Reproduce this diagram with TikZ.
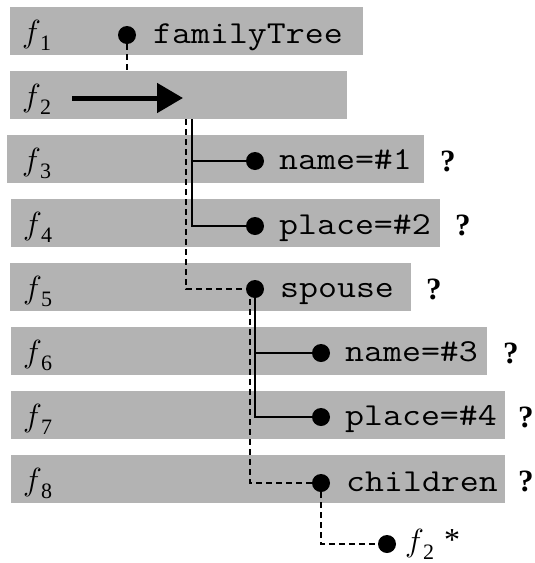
\documentclass[tikz,border=0pt]{standalone}
\usepackage{fontspec}
\setmainfont{Liberation Serif}
\setmonofont[FakeStretch=1.15]{Latin Modern Mono}
\DeclareFontShape{OML}{cmm}{m}{it}{<->cmmi12}{}
\usetikzlibrary{arrows.meta}
\definecolor{bargray}{RGB}{179,179,179}
\newcommand\fsub[1]{$f$\kern-1pt\raisebox{-8pt}{\fontsize{22}{22}\selectfont #1}}
\begin{document}
\begin{tikzpicture}[x=1pt,y=-1pt,
  bar/.style={fill=bargray, draw=none, inner sep=0pt, outer sep=0pt, anchor=north west, minimum height=48pt},
  dot/.style={circle, fill=black, inner sep=0pt, outer sep=0pt, minimum size=18pt},
  lbl/.style={anchor=base west, inner sep=0pt, font=\fontsize{32}{32}\selectfont\ttfamily},
  flab/.style={anchor=base west, inner sep=0pt, font=\fontsize{32}{32}\selectfont},
  qm/.style={anchor=base west, inner sep=0pt, font=\fontsize{31}{31}\selectfont\bfseries},
  solidln/.style={line width=2pt},
  dashln/.style={line width=2pt, dash pattern=on 6pt off 4pt}]
\useasboundingbox (0,0) rectangle (535,563);
% bars
\node[bar, minimum width=353pt] (b1) at (10,7) {};
\node[bar, minimum width=337pt] (b2) at (10,71) {};
\node[bar, minimum width=417pt] (b3) at (7,135) {};
\node[bar, minimum width=429pt] (b4) at (11,199) {};
\node[bar, minimum width=401pt] (b5) at (10,263) {};
\node[bar, minimum width=476pt] (b6) at (11,327) {};
\node[bar, minimum width=494pt] (b7) at (11,391) {};
\node[bar, minimum width=494pt] (b8) at (11,455) {};
% f labels
\node[flab] (l1) at (22,42) {\fsub{1}};
\node[flab] (l2) at (22,106) {\fsub{2}};
\node[flab] (l3) at (22,170) {\fsub{3}};
\node[flab] (l4) at (23,234) {\fsub{4}};
\node[flab] (l5) at (23,298) {\fsub{5}};
\node[flab] (l6) at (23,362) {\fsub{6}};
\node[flab] (l7) at (23,426) {\fsub{7}};
\node[flab] (l8) at (23,490) {\fsub{8}};
% dots
\node[dot] (d1) at (127,35) {};
\node[dot] (dn1) at (255,161) {};
\node[dot] (dp1) at (255,226) {};
\node[dot] (ds) at (255,289) {};
\node[dot] (dn2) at (321,353) {};
\node[dot] (dp2) at (321,417) {};
\node[dot] (dc) at (321,483) {};
\node[dot] (de) at (387,544) {};
% texts
\node[lbl] (t1) at (153,43) {familyTree};
\node[lbl] (t3) at (279,169) {name=\#1};
\node[lbl] (t4) at (279,234) {place=\#2};
\node[lbl] (t5) at (280,297) {spouse};
\node[lbl] (t6) at (345,361) {name=\#3};
\node[lbl] (t7) at (345,425) {place=\#4};
\node[lbl] (t8) at (346,491) {children};
% question marks
\node[qm] (q3) at (440,171) {?};
\node[qm] (q4) at (455,235) {?};
\node[qm] (q5) at (426,299) {?};
\node[qm] (q6) at (503,363) {?};
\node[qm] (q7) at (518,427) {?};
\node[qm] (q8) at (518,491) {?};
% bottom label
\node[flab] (lf) at (405,551) {\fsub{2}};
\node[flab] (star) at (444,550) {*};
% arrow
\coordinate (aS) at (72,98);
\coordinate (aE) at (183,98);
\draw[line width=5pt, -{Triangle[length=26pt,width=29pt]}] (aS) -- (aE);
% connectors
\coordinate (s1) at (192,119);
\coordinate (s2) at (186,119);
\coordinate (x250) at (250,0);
\draw[dashln] (d1) -- (d1 |- b2.north);
\draw[solidln] (s1) |- (dp1);
\draw[solidln] (s1 |- dn1) -- (dn1);
\draw[dashln] (s2) |- (ds);
\draw[solidln] (ds) |- (dp2);
\draw[solidln] (ds |- dn2) -- (dn2);
\draw[dashln] (ds -| x250) |- (dc);
\draw[dashln] (dc) |- (de);
\end{tikzpicture}
\end{document}
